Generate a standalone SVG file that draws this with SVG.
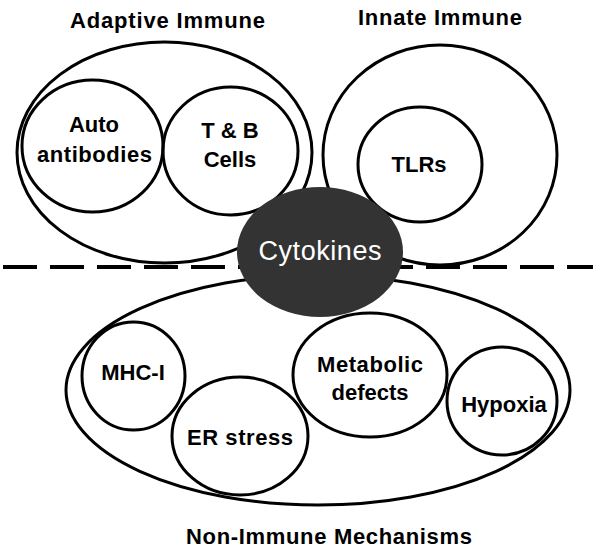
<svg xmlns="http://www.w3.org/2000/svg" width="600" height="550" viewBox="0 0 600 550">
<style>
.o{fill:#fff;stroke:#000;stroke-width:3}
.n{fill:none;stroke:#000;stroke-width:3}
.t{font-family:"Liberation Sans",Arial,sans-serif;font-weight:bold;font-size:22px;fill:#000;text-anchor:middle}
.w{font-family:"Liberation Sans",Arial,sans-serif;font-size:27px;fill:#fff;text-anchor:middle}
</style>
<rect width="600" height="550" fill="#fff"/>
<g id="adaptive">
<ellipse class="n" cx="164.5" cy="152.5" rx="147.5" ry="110.5"/>
<text class="t" x="167.5" y="28" textLength="195" lengthAdjust="spacing">Adaptive Immune</text>
</g>
<g id="autoantibodies">
<ellipse class="n" cx="92.5" cy="146" rx="70.5" ry="66"/>
<text class="t" x="94" y="132">Auto</text>
<text class="t" x="94.5" y="162" textLength="115" lengthAdjust="spacing">antibodies</text>
</g>
<g id="tbcells">
<ellipse class="n" cx="230.5" cy="151" rx="67.5" ry="64"/>
<text class="t" x="230" y="138">T &amp; B</text>
<text class="t" x="230" y="167">Cells</text>
</g>
<g id="innate">
<ellipse class="n" cx="440" cy="155" rx="117" ry="110"/>
<text class="t" x="440" y="25" textLength="164" lengthAdjust="spacing">Innate Immune</text>
</g>
<g id="tlrs">
<ellipse class="n" cx="420" cy="164.5" rx="62" ry="57.5"/>
<text class="t" x="419" y="172">TLRs</text>
</g>
<g id="nonimmune">
<ellipse class="n" cx="318" cy="390" rx="252" ry="115"/>
<text class="t" x="329" y="544" textLength="286" lengthAdjust="spacing">Non-Immune Mechanisms</text>
</g>
<g id="mhc">
<ellipse class="n" cx="133.5" cy="376" rx="51.5" ry="54"/>
<text class="t" x="133" y="380">MHC-I</text>
</g>
<g id="erstress">
<ellipse class="n" cx="240" cy="436" rx="68" ry="59"/>
<text class="t" x="240" y="445" textLength="106" lengthAdjust="spacing">ER stress</text>
</g>
<g id="metabolic">
<ellipse class="n" cx="370" cy="375" rx="77" ry="62"/>
<text class="t" x="370" y="372" textLength="106" lengthAdjust="spacing">Metabolic</text>
<text class="t" x="370" y="400">defects</text>
</g>
<g id="hypoxia">
<ellipse class="n" cx="502" cy="401" rx="55" ry="54"/>
<text class="t" x="504" y="412">Hypoxia</text>
</g>
<g id="connectors">
<line x1="3" y1="267" x2="593" y2="267" stroke="#000" stroke-width="4" stroke-dasharray="34 13"/>
</g>
<g id="cytokines">
<ellipse cx="320" cy="252" rx="83" ry="65" fill="#333"/>
<text class="w" x="320" y="260" textLength="123" lengthAdjust="spacing">Cytokines</text>
</g>
</svg>
